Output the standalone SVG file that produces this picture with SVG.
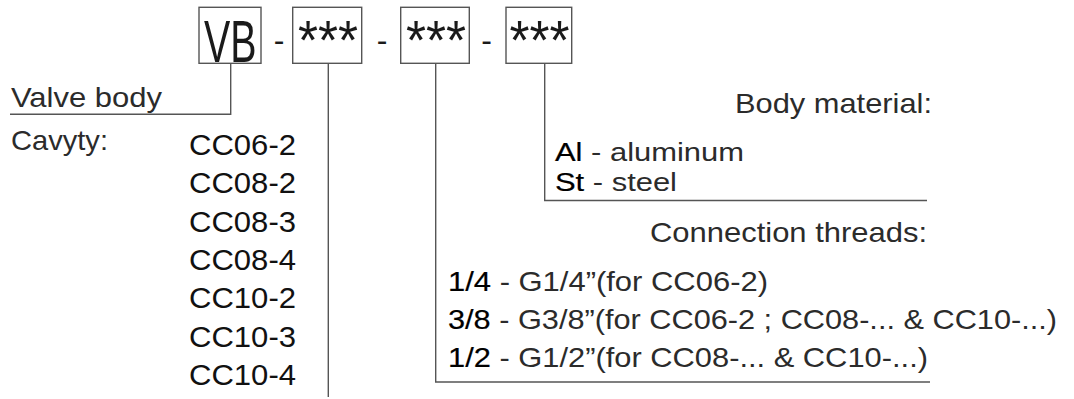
<svg xmlns="http://www.w3.org/2000/svg" width="1074" height="399" viewBox="0 0 1074 399">
<style>
  .box { fill: #fff; stroke: #555; stroke-width: 1.4; }
  .ln { fill: none; stroke: #555; stroke-width: 1.4; }
  .t { font-family: "Liberation Sans", Arial, sans-serif; fill: #2b2b2b; }
  .lbl { font-size: 28.5px; }
  .mat { font-size: 26px; }
  .code { font-size: 29px; fill: #111; }
  .k { fill: #000; stroke: #000; stroke-width: 0.2; }
  .big { font-size: 40px; fill: #1a1a1a; }
  .ast { font-size: 56px; fill: #1a1a1a; }
  .dash { font-size: 32px; fill: #1a1a1a; }
</style>
<rect width="1074" height="399" fill="#fff"/>

<g id="connectors">
  <polyline class="ln" points="230.7,63 230.7,114.3 10,114.3"/>
  <line class="ln" x1="328.3" y1="63" x2="328.3" y2="397"/>
  <polyline class="ln" points="435.7,63 435.7,382 930,382"/>
  <polyline class="ln" points="544.7,63 544.7,200.5 927,200.5"/>
</g>

<g id="code">
  <g id="box-vb">
    <rect class="box" x="199" y="7.3" width="62" height="56"/>
    <text class="t big" transform="translate(204,61.5) scale(1,1.5)" x="0" y="0" textLength="52.5" lengthAdjust="spacingAndGlyphs">VB</text>
  </g>
  <text class="t dash" x="279" y="50.5" text-anchor="middle">-</text>
  <g id="box-cavity">
    <rect class="box" x="292.7" y="7.3" width="69" height="56"/>
    <text class="t ast" x="298" y="59" textLength="60" lengthAdjust="spacingAndGlyphs">***</text>
  </g>
  <text class="t dash" x="382" y="50.5" text-anchor="middle">-</text>
  <g id="box-threads">
    <rect class="box" x="400.7" y="7.3" width="68.6" height="56"/>
    <text class="t ast" x="406" y="59" textLength="60" lengthAdjust="spacingAndGlyphs">***</text>
  </g>
  <text class="t dash" x="486.7" y="50.5" text-anchor="middle">-</text>
  <g id="box-material">
    <rect class="box" x="506" y="7.3" width="65.7" height="56"/>
    <text class="t ast" x="509.5" y="59" textLength="60" lengthAdjust="spacingAndGlyphs">***</text>
  </g>
</g>

<g id="valve-body">
  <text class="t lbl" x="11" y="106.5" textLength="151" lengthAdjust="spacingAndGlyphs">Valve body</text>
</g>

<g id="cavity">
  <text class="t lbl" x="11" y="150" textLength="97" lengthAdjust="spacingAndGlyphs">Cavyty:</text>
  <text class="t code" x="189" y="154.5" textLength="107" lengthAdjust="spacingAndGlyphs">CC06-2</text>
  <text class="t code" x="189" y="193" textLength="107" lengthAdjust="spacingAndGlyphs">CC08-2</text>
  <text class="t code" x="189" y="231.5" textLength="107" lengthAdjust="spacingAndGlyphs">CC08-3</text>
  <text class="t code" x="189" y="270" textLength="107" lengthAdjust="spacingAndGlyphs">CC08-4</text>
  <text class="t code" x="189" y="308" textLength="107" lengthAdjust="spacingAndGlyphs">CC10-2</text>
  <text class="t code" x="189" y="346.5" textLength="107" lengthAdjust="spacingAndGlyphs">CC10-3</text>
  <text class="t code" x="189" y="385" textLength="107" lengthAdjust="spacingAndGlyphs">CC10-4</text>
</g>

<g id="body-material">
  <text class="t lbl" x="735" y="113" textLength="197" lengthAdjust="spacingAndGlyphs">Body material:</text>
  <text class="t mat" x="555" y="160.5" textLength="189" lengthAdjust="spacingAndGlyphs"><tspan class="k">Al</tspan> - aluminum</text>
  <text class="t mat" x="555" y="190.5" textLength="122" lengthAdjust="spacingAndGlyphs"><tspan class="k">St</tspan> - steel</text>
</g>

<g id="connection-threads">
  <text class="t lbl" x="650" y="241.5" textLength="277" lengthAdjust="spacingAndGlyphs">Connection threads:</text>
  <text class="t lbl" x="448" y="291" textLength="320" lengthAdjust="spacingAndGlyphs"><tspan class="k">1/4</tspan> - G1/4”(for CC06-2)</text>
  <text class="t lbl" x="448" y="329" textLength="609" lengthAdjust="spacingAndGlyphs"><tspan class="k">3/8</tspan> - G3/8”(for CC06-2 ; CC08-... &amp; CC10-...)</text>
  <text class="t lbl" x="448" y="366.5" textLength="480" lengthAdjust="spacingAndGlyphs"><tspan class="k">1/2</tspan> - G1/2”(for CC08-... &amp; CC10-...)</text>
</g>
</svg>
